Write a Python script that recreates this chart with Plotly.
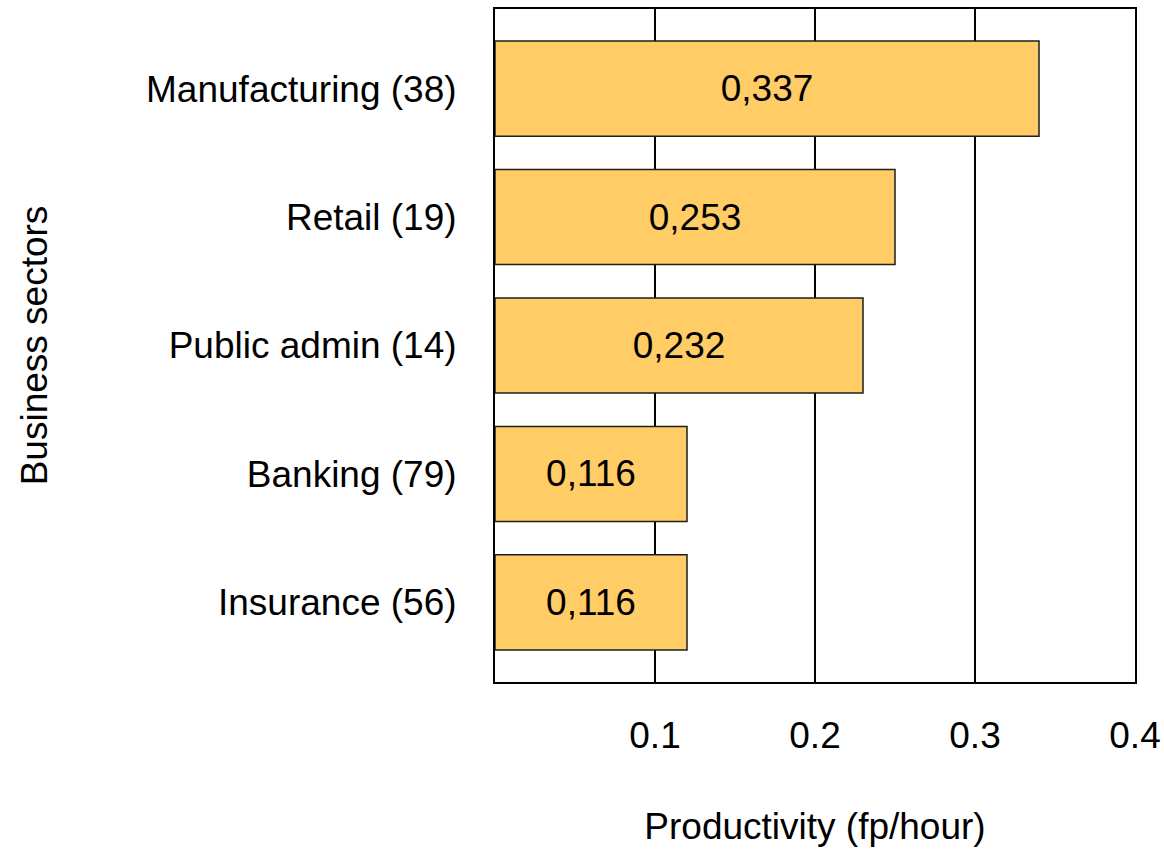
import plotly.graph_objects as go

categories = ["Manufacturing (38)", "Retail (19)", "Public admin (14)", "Banking (79)", "Insurance (56)"]
bar_values = [0.34, 0.25, 0.23, 0.12, 0.12]
bar_labels = ["0,337", "0,253", "0,232", "0,116", "0,116"]
x_tickvals = [0.1, 0.2, 0.3, 0.4]
x_ticktext = ["0.1", "0.2", "0.3", "0.4"]

FONT = "Liberation Sans, Arial, sans-serif"
FS = 37

fig = go.Figure()
fig.add_trace(go.Bar(
    y=categories,
    x=bar_values,
    orientation="h",
    width=0.74,
    marker=dict(color="#FFCC66", line=dict(color="rgb(30,30,30)", width=1.5)),
    text=bar_labels,
    textposition="inside",
    insidetextanchor="middle",
    constraintext="none",
    textfont=dict(family=FONT, size=FS, color="black"),
    hoverinfo="skip",
))

fig.update_layout(
    width=1164, height=849,
    margin=dict(l=495, r=29, t=9, b=167),
    plot_bgcolor="white", paper_bgcolor="white",
    font=dict(family=FONT, size=FS, color="black"),
    showlegend=False,
)
fig.update_xaxes(
    range=[0, 0.4], automargin=False,
    tickvals=x_tickvals, ticktext=x_ticktext,
    ticks="outside", ticklen=20, tickcolor="rgba(0,0,0,0)",
    showgrid=True, gridcolor="black", gridwidth=2,
    zeroline=False,
    showline=True, linecolor="black", linewidth=2, mirror=True,
    title=dict(text="Productivity (fp/hour)", standoff=58, font=dict(size=FS)),
    tickfont=dict(size=FS),
)
fig.update_yaxes(
    categoryorder="array", categoryarray=categories,
    range=[4.62, -0.62], automargin=False,
    ticks="outside", ticklen=29, tickcolor="rgba(0,0,0,0)",
    showgrid=False, zeroline=False,
    showline=True, linecolor="black", linewidth=2, mirror=True,
    title=dict(text="Business sectors", standoff=87, font=dict(size=FS)),
    tickfont=dict(size=FS),
)

fig.write_html("out.html")
